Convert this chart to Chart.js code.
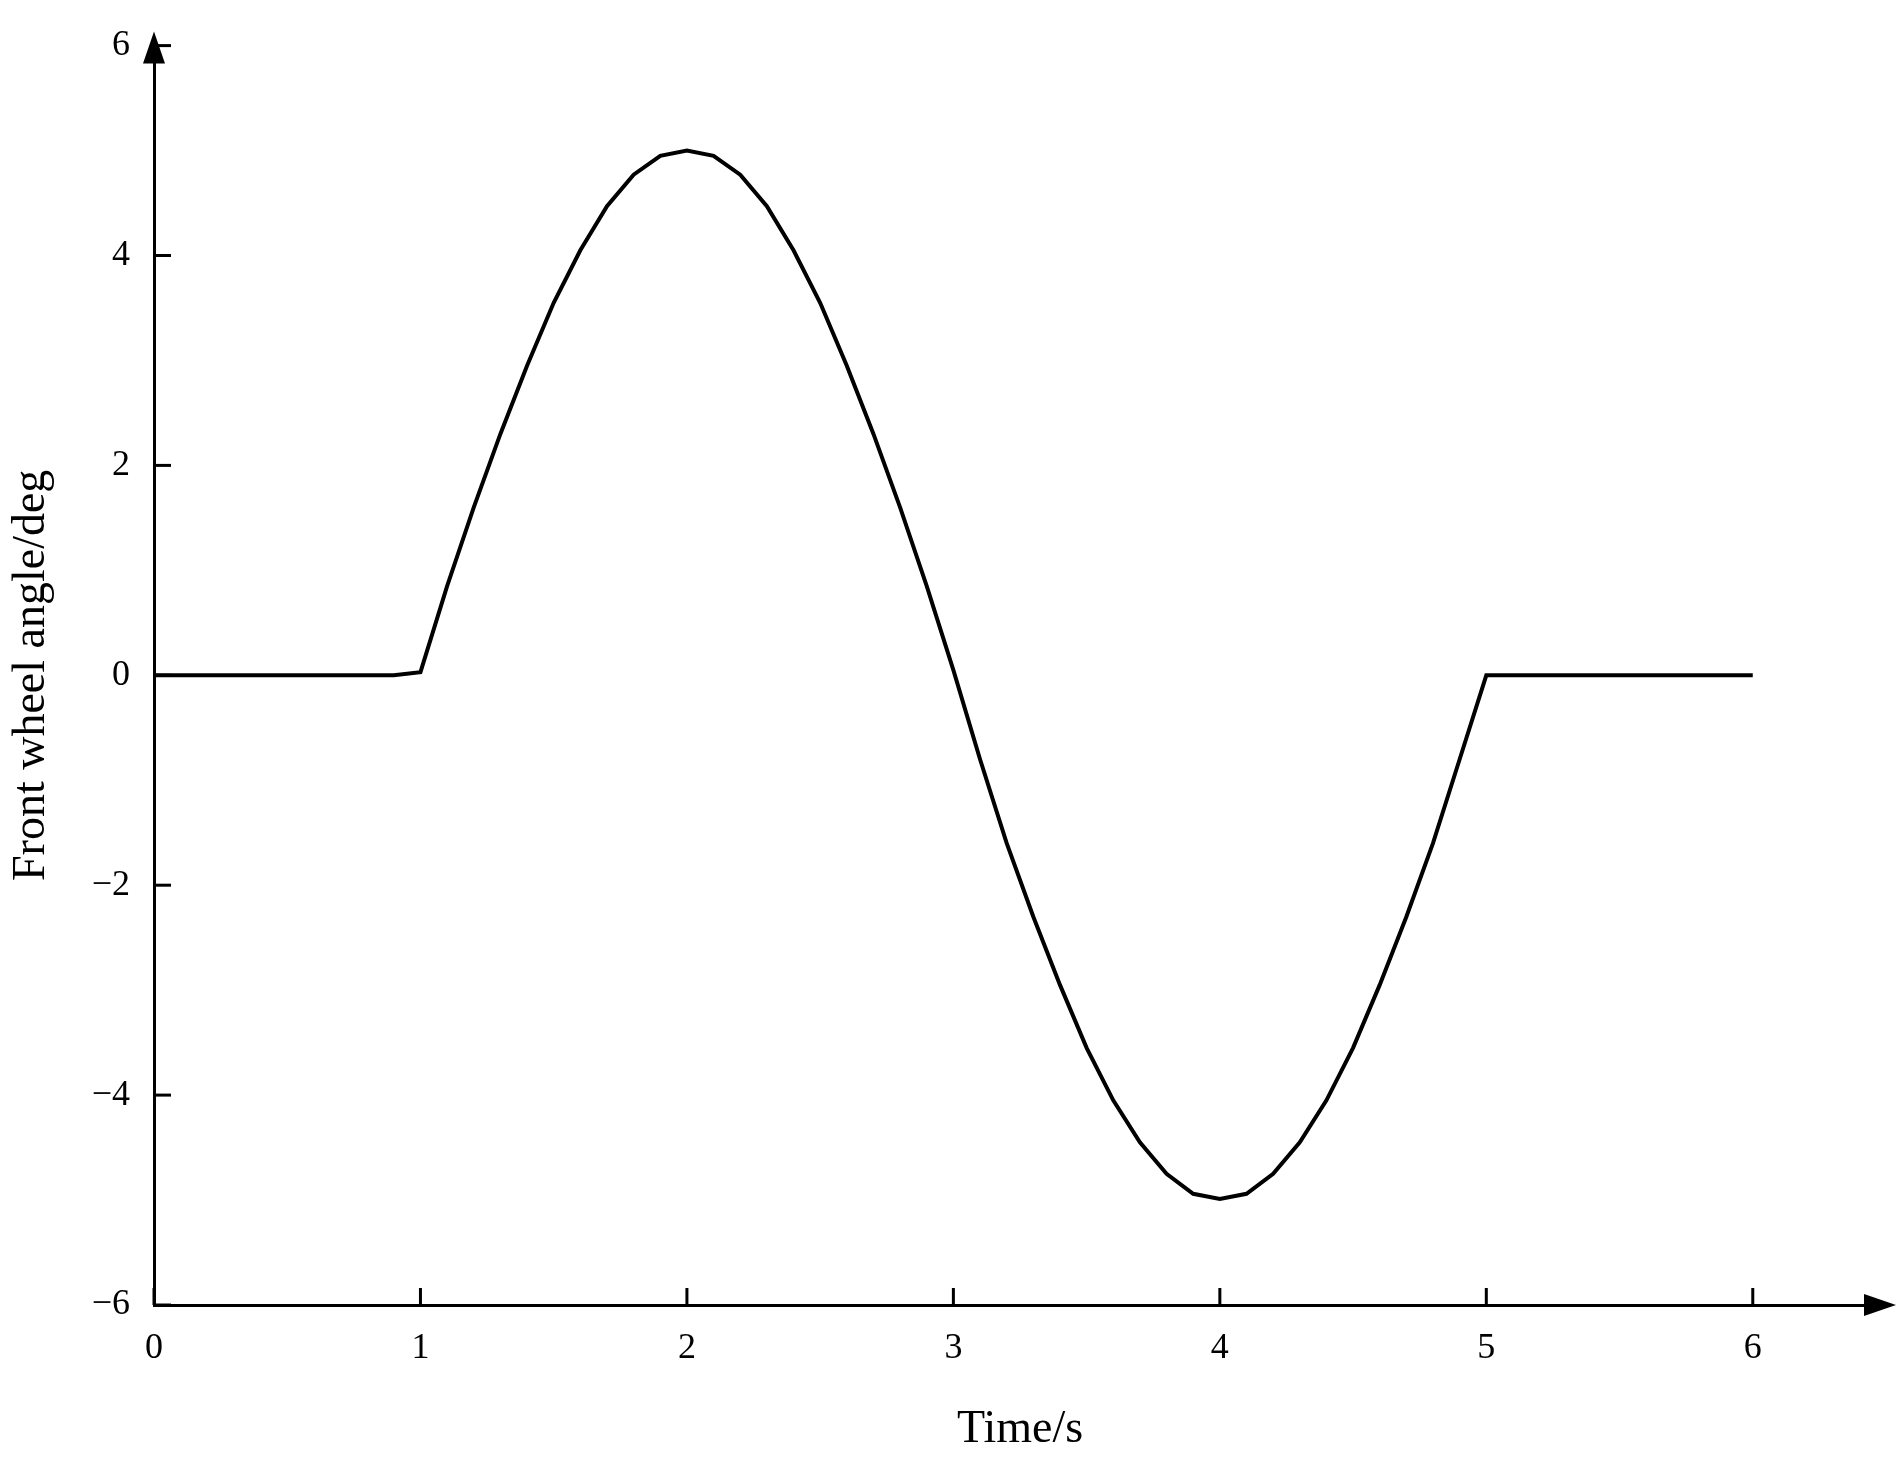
<!DOCTYPE html>
<html><head><meta charset="utf-8">
<script src="https://cdn.jsdelivr.net/npm/chart.js@4/dist/chart.umd.min.js"></script>
<style>body{margin:0;background:#fff}canvas{display:block}</style>
</head><body>
<canvas id="c" width="1896" height="1462"></canvas>
<script>
const timeS = [0,0.1,0.2,0.3,0.4,0.5,0.6,0.7,0.8,0.9,1.0,1.1,1.2,1.3,1.4,1.5,1.6,1.7,1.8,1.9,2.0,2.1,2.2,2.3,2.4,2.5,2.6,2.7,2.8,2.9,3.0,3.1,3.2,3.3,3.4,3.5,3.6,3.7,3.8,3.9,4.0,4.1,4.2,4.3,4.4,4.5,4.6,4.7,4.8,4.9,5.0,5.1,5.2,5.3,5.4,5.5,5.6,5.7,5.8,5.9,6.0];
const angleDeg = [0,0,0,0,0,0,0,0,0,0,
 0.03,0.85,1.6,2.3,2.95,3.55,4.05,4.47,4.77,4.95,5.0,4.95,4.77,4.47,4.05,3.55,2.95,2.3,1.6,0.85,0.05,
 -0.8,-1.6,-2.3,-2.95,-3.55,-4.05,-4.45,-4.75,-4.94,-4.99,-4.94,-4.75,-4.45,-4.05,-3.55,-2.95,-2.3,-1.6,-0.8,0,
 0,0,0,0,0,0,0,0,0,0];
const xTicks = [0,1,2,3,4,5,6];
const yTicks = [-6,-4,-2,0,2,4,6];
const font = "'Liberation Serif', 'Times New Roman', serif";

const axesPlugin = {
  id:'axesDecor',
  afterDraw(chart){
    const ctx = chart.ctx, xs = chart.scales.x, ys = chart.scales.y, a = chart.chartArea;
    ctx.save();
    ctx.strokeStyle='#000'; ctx.fillStyle='#000'; ctx.lineWidth=3;
    // ticks inward
    xTicks.forEach(v=>{ const px=xs.getPixelForValue(v); ctx.beginPath(); ctx.moveTo(px,a.bottom); ctx.lineTo(px,a.bottom-17); ctx.stroke(); });
    yTicks.forEach(v=>{ const py=ys.getPixelForValue(v); ctx.beginPath(); ctx.moveTo(a.left,py); ctx.lineTo(a.left+17,py); ctx.stroke(); });
    // arrows
    ctx.beginPath(); ctx.moveTo(a.right+10,a.bottom); ctx.lineTo(a.right-22,a.bottom-11); ctx.lineTo(a.right-22,a.bottom+11); ctx.closePath(); ctx.fill();
    ctx.beginPath(); ctx.moveTo(a.left,a.top-14); ctx.lineTo(a.left-11,a.top+18); ctx.lineTo(a.left+11,a.top+18); ctx.closePath(); ctx.fill();
    ctx.restore();
  }
};

new Chart(document.getElementById('c'),{
  type:'line',
  data:{datasets:[{data:timeS.map((t,i)=>({x:t,y:angleDeg[i]})),borderColor:'#000',borderWidth:4,pointRadius:0,tension:0,fill:false}]},
  options:{
    responsive:false,animation:false,
    layout:{padding:{top:21,right:10,left:0,bottom:0}},
    plugins:{legend:{display:false},tooltip:{enabled:false}},
    scales:{
      x:{type:'linear',min:0,max:6.5,
        afterBuildTicks(s){s.ticks=xTicks.map(v=>({value:v}));},
        afterFit(s){s.height=157;},
        grid:{display:false,drawTicks:false},
        border:{display:true,color:'#000',width:3},
        ticks:{color:'#000',font:{family:font,size:36},padding:22,maxRotation:0},
        title:{display:true,text:'Time/s',color:'#000',font:{family:font,size:46},padding:{top:18}}
      },
      y:{type:'linear',min:-6,max:6,
        afterBuildTicks(s){s.ticks=yTicks.map(v=>({value:v}));},
        afterFit(s){s.width=154;},
        grid:{display:false,drawTicks:false},
        border:{display:true,color:'#000',width:3},
        ticks:{color:'#000',font:{family:font,size:36},padding:24,callback:v=>String(v).replace('-','\u2212')},
        title:{display:true,text:'Front wheel angle/deg',color:'#000',font:{family:font,size:46},padding:{bottom:0}}
      }
    }
  },
  plugins:[axesPlugin]
});
</script>
</body></html>
